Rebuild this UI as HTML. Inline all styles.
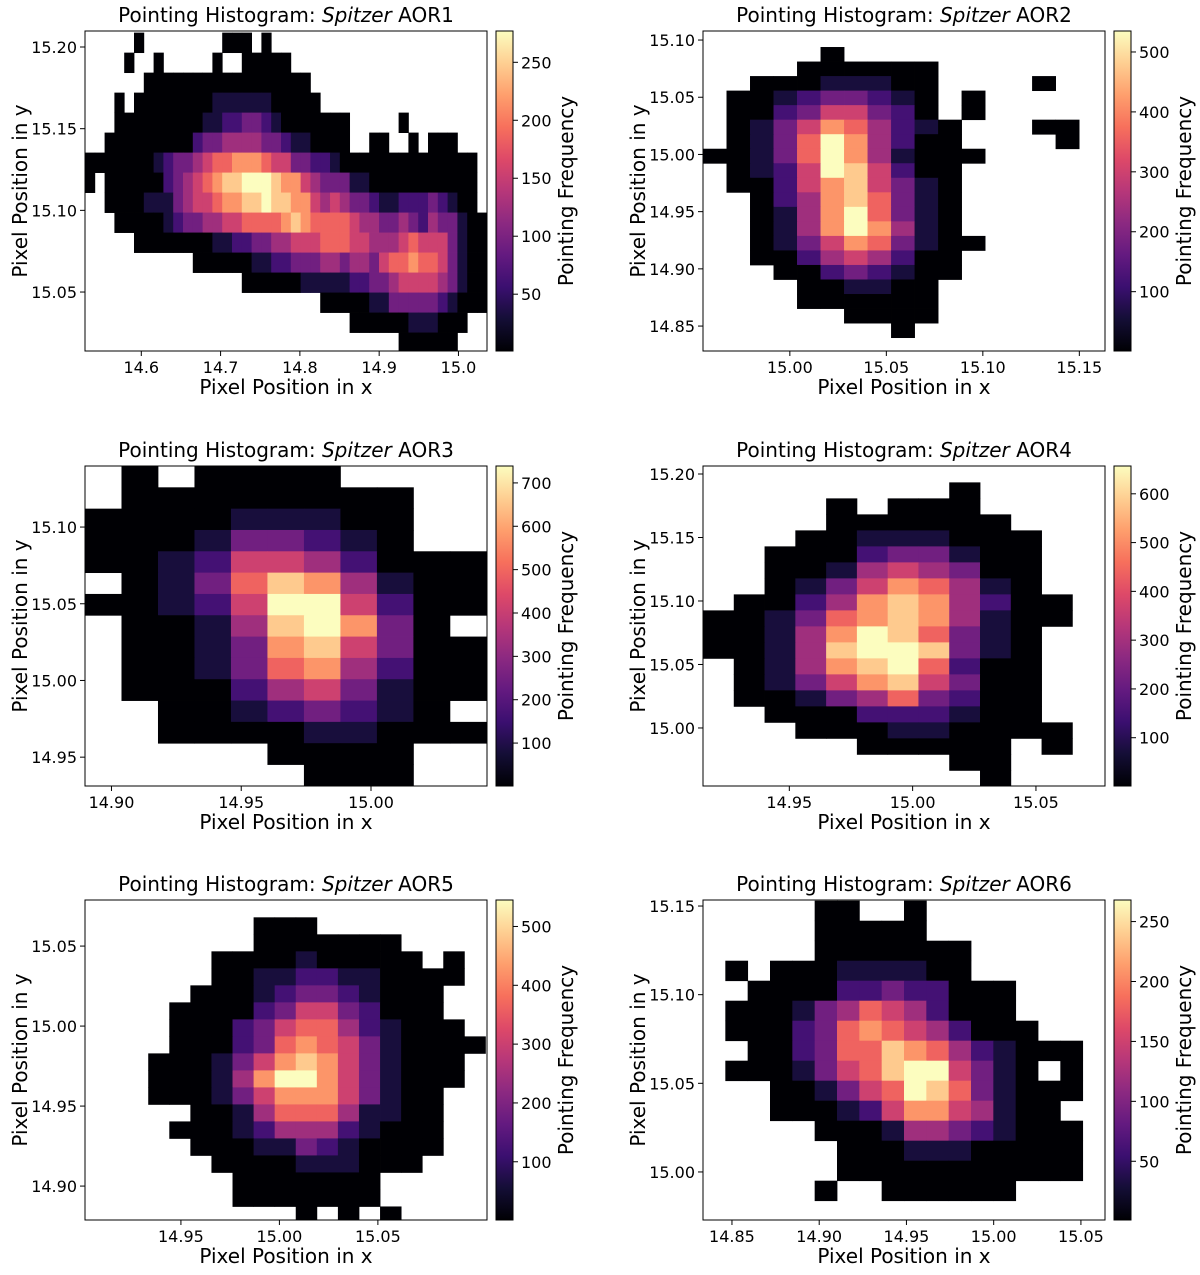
<!DOCTYPE html>
<html><head><meta charset="utf-8">
<style>
html,body{margin:0;padding:0;background:#fff;}
svg text{font-family:"DejaVu Sans","Liberation Sans",sans-serif;fill:#000;}
</style></head>
<body>
<svg id="fig" xmlns="http://www.w3.org/2000/svg" width="1200" height="1270" viewBox="0 0 1200 1270">
<defs>
<linearGradient id="magma" x1="0" y1="1" x2="0" y2="0">
<stop offset="0" stop-color="#000004"/><stop offset="0.1" stop-color="#140e36"/><stop offset="0.2" stop-color="#3b0f70"/><stop offset="0.3" stop-color="#641a80"/><stop offset="0.4" stop-color="#8c2981"/><stop offset="0.5" stop-color="#b73779"/><stop offset="0.6" stop-color="#de4968"/><stop offset="0.7" stop-color="#f7705c"/><stop offset="0.8" stop-color="#fe9f6d"/><stop offset="0.9" stop-color="#fecf92"/><stop offset="1" stop-color="#fcfdbf"/>
</linearGradient>
</defs>
</svg>
<script>
// ---- data: level grids ('.' = empty bin, 0-9 = count level), colour ranges, ticks ----
const aor1Rows = [
"....."+"0"+"........"+"000"+"."+"0"+"......................",
"...."+"0"+".."+"0"+"....."+"0"+".."+"00000"+"....................",
"......"+"00000000000000000"+"..................",
"..."+"0"+"."+"00000000"+"111111"+"00000"+".................",
"..."+"000000000"+"11223321"+"0000000"+"....."+"0"+"........",
".."+"000000000"+"2"+"3"+"3"+"4444"+"33"+"2"+"11"+"0000"+".."+"00"+".."+"0"+"."+"000"+"...",
"0000000"+"1233456677765533221"+"00000000000000"+".",
"0."+"000000"+"234567889998775433311"+"00000000000"+".",
".."+"0000"+"111"+"34556778898877545433211222321"+"00"+".",
"..."+"00000"+"123344556666787666654433432433100",
"....."+"00000000"+"1122334455566655444565553100",
"..........."+"000000"+"112233344344356676653100",
"................"+"000000"+"1111122334555543100",
"........................"+"00000113333321000",
"..........................."+"000000111000"+"..",
"................................"+"000000"+"..."
];
const aor2Rows = [
".................",
".....0...........",
"....000000.......",
"..00011100....0..",
".001233210.0.....",
".002355320.0.....",
".0135764210...00.",
".0136974200....0.",
"001369741000.....",
".0125985200......",
".0025785310......",
"..024786310......",
"..014796310......",
"..014797410......",
"..0135763100.....",
"..002454200......",
"...00232100......",
"....001100.......",
"....000000.......",
"......0000.......",
"........0........",
"................."
];
const aor3Rows = [
".0.0000....",
".00000000..",
"000011100..",
"000133210..",
"00125542000",
".0136874100",
"00125995200",
".001489730.",
".0013785300",
".0013674200",
".0002453100",
"..00123210.",
"..000011000",
".....0000..",
"......000.."
];
const aor4Rows = [
".............",
"........0....",
"....0.000....",
"....000000...",
"...00111000..",
"..000233100..",
"..001454300..",
"..013576410..",
".00247874200.",
"001367874100.",
"00147986310..",
"00148998310..",
".0147896200..",
".0135785300..",
".0013463200..",
"..000222100..",
"...000110000.",
".....00000.0.",
"........00...",
".........0..."
];
const aor5Rows = [
"...................",
"........000........",
"........0000000....",
"......0000100000.0.",
"......001122110000.",
".....000123321000..",
"....0000235532000..",
"....00023566421000.",
"....000236765310000",
"...000135787531000.",
"...000147997531000.",
"...00013577753100..",
".....001466641100..",
"....0001244421000..",
".....000113210000..",
"......0000111000...",
".......0000000.....",
".......0000000.....",
"..........0.0.0...."
];
const aor6Rows = [
".....00..0........",
".....00000........",
".....0000000......",
".0.000111100......",
"..000022322000....",
".0001346542000....",
".00023676542000...",
"..002366876421000.",
".00013568995310.0.",
"...00135698631000.",
"...0001257754100..",
".....000144321000.",
"......00011100000.",
"......00000000000.",
".....0..000000....",
".................."
];
const countMin = [1, 1, 1, 1, 1, 1];
const countMax = [277, 535, 739, 657, 545, 268];
const xTicks = [[14.6,14.7,14.8,14.9,15.0],[15.00,15.05,15.10,15.15],[14.90,14.95,15.00],[14.95,15.00,15.05],[14.95,15.00,15.05],[14.85,14.90,14.95,15.00,15.05]];
const yTicks = [[15.05,15.10,15.15,15.20],[14.85,14.90,14.95,15.00,15.05,15.10],[14.95,15.00,15.05,15.10],[15.00,15.05,15.10,15.15,15.20],[14.90,14.95,15.00,15.05],[15.00,15.05,15.10,15.15]];
const cTicks = [[50,100,150,200,250],[100,200,300,400,500],[100,200,300,400,500,600,700],[100,200,300,400,500,600],[100,200,300,400,500],[50,100,150,200,250]];
const xDomains = [[14.529,15.036],[14.955,15.1633],[14.8898,15.0447],[14.915,15.078],[14.9013,15.1054],[14.8334,15.0638]];
const yDomains = [[15.0139,15.2098],[14.8282,15.1079],[14.9312,15.1398],[14.9543,15.2063],[14.8788,15.0788],[14.9729,15.1534]];
const binX0 = [14.529, 14.955, 14.8898, 14.915, 14.9013, 14.8334];
const binDX = [0.01236, 0.01218, 0.01406, 0.01248, 0.0107, 0.0128];
const binYTop = [15.2088, 15.1066, 15.1398, 15.2060, 15.0786, 15.1530];
const binDY = [0.01224, 0.0127, 0.0139, 0.0126, 0.01063, 0.01128];
const allRows = [aor1Rows, aor2Rows, aor3Rows, aor4Rows, aor5Rows, aor6Rows];

// ---- layout ----
const NS = "http://www.w3.org/2000/svg";
const svg = document.getElementById("fig");
const boxes = [[85,31],[703,31],[85,466],[703,466],[85,900],[703,900]];
const W = 402, H = 320;
const magmaStops = [[0,[0,0,4]],[0.1,[20,14,54]],[0.2,[59,15,112]],[0.3,[100,26,128]],[0.4,[140,41,129]],[0.5,[183,55,121]],[0.6,[222,73,104]],[0.7,[247,112,92]],[0.8,[254,159,109]],[0.9,[254,207,146]],[1,[252,253,191]]];
function magma(t){
  t=Math.max(0,Math.min(1,t));
  for(let i=1;i<magmaStops.length;i++){
    if(t<=magmaStops[i][0]){
      const a=magmaStops[i-1],b=magmaStops[i],f=(t-a[0])/(b[0]-a[0]);
      const c=a[1].map((v,k)=>Math.round(v+(b[1][k]-v)*f));
      return "rgb("+c.join(",")+")";
    }
  }
  return "rgb(252,253,191)";
}
function mk(tag, attrs, parent){
  const e=document.createElementNS(NS,tag);
  for(const k in attrs) e.setAttribute(k,attrs[k]);
  (parent||svg).appendChild(e);
  return e;
}
function levelToCount(ch, p){
  return countMin[p] + (parseInt(ch,10)/9)*(countMax[p]-countMin[p]);
}

for(let p=0;p<6;p++){
  const [bx,by]=boxes[p];
  const xd=xDomains[p], yd=yDomains[p];
  const sx=v=>bx+(v-xd[0])/(xd[1]-xd[0])*W;
  const sy=v=>by+H-(v-yd[0])/(yd[1]-yd[0])*H;
  const g=mk("g",{});
  
  
  const clip=mk("clipPath",{id:"clip"+p},g);
  mk("rect",{x:bx,y:by,width:W,height:H},clip);
  const cells=mk("g",{"clip-path":"url(#clip"+p+")"},g);
  
  
  const rows=allRows[p];
  rows.forEach((row,r)=>{
    for(let c=0;c<row.length;c++){
      const ch=row[c];
      if(ch<'0'||ch>'9') continue;
      const cnt=levelToCount(ch,p);
      const x0=sx(binX0[p]+c*binDX[p]), x1=sx(binX0[p]+(c+1)*binDX[p]);
      const y0=sy(binYTop[p]-r*binDY[p]), y1=sy(binYTop[p]-(r+1)*binDY[p]);
      const rc=mk("rect",{x:x0.toFixed(2),y:y0.toFixed(2),width:(x1-x0+0.4).toFixed(2),height:(y1-y0+0.4).toFixed(2),fill:magma((cnt-countMin[p])/(countMax[p]-countMin[p]))},cells);
      
      
    }
  });
  const frame=mk("rect",{x:bx,y:by,width:W,height:H,fill:"none",stroke:"#000","stroke-width":1},g);
  
  
  xTicks[p].forEach(v=>{
    const x=sx(v);
    mk("line",{x1:x,y1:by+H,x2:x,y2:by+H+5,stroke:"#000"},g);
    const t=mk("text",{x:x,y:by+H+22,"text-anchor":"middle","font-size":"16"},g);
    t.textContent=(p===0?v.toFixed(1):v.toFixed(2));
    
    
  });
  yTicks[p].forEach(v=>{
    const y=sy(v);
    mk("line",{x1:bx-5,y1:y,x2:bx,y2:y,stroke:"#000"},g);
    const t=mk("text",{x:bx-8,y:y+6,"text-anchor":"end","font-size":"16"},g);
    t.textContent=v.toFixed(2);
    
    
  });
  const ti=mk("text",{x:bx+W/2,y:by-9,"text-anchor":"middle","font-size":"20"},g);
  ti.innerHTML='Pointing Histogram: <tspan font-style="italic">Spitzer</tspan> AOR'+(p+1);
  
  
  const xl=mk("text",{x:bx+W/2,y:by+H+43,"text-anchor":"middle","font-size":"20"},g);
  xl.textContent="Pixel Position in x";
  
  
  const ylx=bx-58, yly=by+H/2;
  const yl=mk("text",{x:ylx,y:yly,"text-anchor":"middle","font-size":"20",transform:"rotate(-90 "+ylx+" "+yly+")"},g);
  yl.textContent="Pixel Position in y";
  
  
  const cx=bx+W+9, cw=17;
  const cb=mk("rect",{x:cx,y:by,width:cw,height:H,fill:"url(#magma)",stroke:"#000","stroke-width":1},g);
  
  
  const sc=v=>by+H-(v-countMin[p])/(countMax[p]-countMin[p])*H;
  cTicks[p].forEach(v=>{
    const y=sc(v);
    mk("line",{x1:cx+cw,y1:y,x2:cx+cw+5,y2:y,stroke:"#000"},g);
    const t=mk("text",{x:cx+cw+8,y:y+6,"font-size":"16"},g);
    t.textContent=String(v);
    
    
  });
  const clx=cx+cw+60, cly=by+H/2;
  const cl=mk("text",{x:clx,y:cly,"text-anchor":"middle","font-size":"20",transform:"rotate(-90 "+clx+" "+cly+")"},g);
  cl.textContent="Pointing Frequency";
  
  
}
</script>
</body></html>
